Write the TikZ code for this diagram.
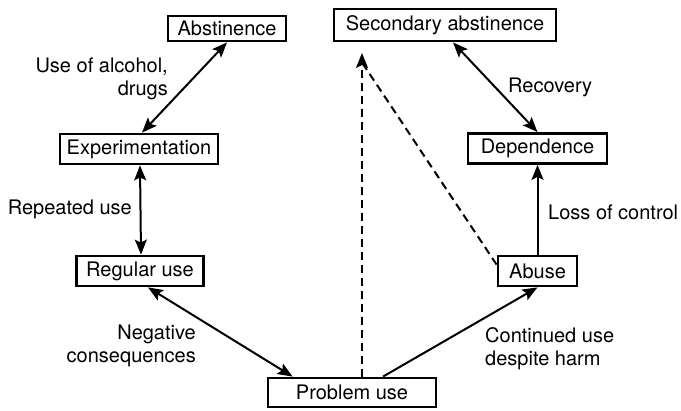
\documentclass[tikz,border=0pt]{standalone}
\usepackage{fontspec}
\setmainfont{TeX Gyre Heros}
\usetikzlibrary{arrows.meta,calc}
\tikzset{
	stage/.style={draw,line width=2.8pt,minimum height=30pt,inner sep=0pt},
	link/.style={line width=2pt,arrows={-},>={Stealth[length=15pt,width=12pt,inset=3pt]}},
	dashlink/.style={link,dash pattern=on 8pt off 5pt},
	lbl/.style={inner sep=0pt}
}
\begin{document}
\begin{tikzpicture}[x=1pt,y=-1pt,font=\fontsize{20}{23}\selectfont]
		\useasboundingbox (0,0) rectangle (681,411);
		\node[stage,minimum width=118pt,minimum height=25pt] (abst) at (227,28.5) {Abstinence};
		\node[stage,minimum width=222pt,minimum height=32pt] (sec) at (445,25) {Secondary abstinence};
		\node[stage,minimum width=158pt] (exper) at (139,149) {Experimentation};
		\node[stage,minimum width=139pt] (dep) at (537.5,148.5) {Dependence};
		\node[stage,minimum width=127pt] (reg) at (140,271) {Regular use};
		\node[stage,minimum width=79pt] (abuse) at (537.5,271) {Abuse};
		\node[stage,minimum width=168pt,minimum height=29pt] (prob) at (352,392.5) {Problem use};
		\draw[link,<->] (abst.south) -- ([xshift=3pt]exper.north);
		\draw[link,<->] ([xshift=1pt]exper.south) -- ([xshift=1pt]reg.north);
		\draw[link,<->] ([xshift=8pt]reg.south) -- ([xshift=26pt]prob.north west);
		\draw[link,->] ([xshift=31pt]prob.north) -- (abuse.south);
		\draw[link,->] (abuse.north) -- (dep.south);
		\draw[link,<->] ([xshift=8pt]sec.south) -- (dep.north);
		\coordinate (dtip) at (362,53);
		\draw[dashlink,->] (prob.north -| dtip) -- (dtip);
		\draw[dashlink] ([yshift=-10pt]abuse.north west) -- ($(dtip)+(1,11)$);
		\node[lbl,anchor=north east,align=right] (alc) at (168,58) {Use of alcohol,\\drugs};
		\node[lbl,anchor=north east] (rep) at (132,200) {Repeated use};
		\node[lbl,anchor=north east,align=right] (neg) at (196,325) {Negative\\consequences};
		\node[lbl,anchor=north west] (rec) at (508,78) {Recovery};
		\node[lbl,anchor=north west] (loss) at (548,205) {Loss of control};
		\node[lbl,anchor=north west,align=left] (cont) at (485,327) {Continued use\\despite harm};
	\end{tikzpicture}
\end{document}
